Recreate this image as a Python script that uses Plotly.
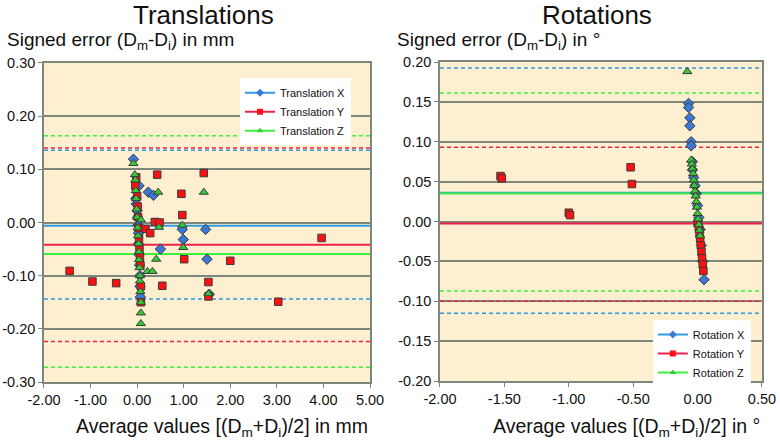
import plotly.graph_objects as go

# ---- Translations (mm) ----
tx_x = [-0.08, 0.04, -0.03, -0.02, 0.0, 0.01, 0.02, 0.03, 0.03, 0.04, 0.05, 0.06, 0.06, 0.07,
        0.24, 0.35, 0.97, 1.47, 0.99, 0.50, 1.50, 1.55]
tx_y = [0.119, 0.069, 0.045, 0.035, 0.022, 0.010, -0.005, -0.020, -0.040, -0.060, -0.080, -0.100, -0.120, -0.140,
        0.057, 0.051, -0.013, -0.013, -0.032, -0.050, -0.069, -0.135]

ty_x = [-1.45, -0.96, -0.45, -0.04, -0.02, 0.0, 0.01, 0.02, 0.03, 0.04, 0.05, 0.06, 0.07, 0.08, 0.08,
        0.43, 1.43, 0.95, 0.97, 0.38, 0.48, 0.18, 0.28, 1.01, 2.0, 0.54, 1.53, 1.53, 3.03, 3.96]
ty_y = [-0.091, -0.111, -0.114, 0.069, 0.085, 0.050, 0.030, 0.010, -0.010, -0.030, -0.050, -0.065, -0.080, -0.120, -0.150,
        0.090, 0.093, 0.054, 0.014, 0.001, 0.0, -0.012, -0.020, -0.069, -0.072, -0.119, -0.112, -0.139, -0.149, -0.029]

tz_x = [-0.08, -0.05, -0.04, -0.03, -0.02, -0.01, 0.0, 0.01, 0.02, 0.03, 0.04, 0.04, 0.05, 0.06, 0.06, 0.07, 0.08, 0.08, 0.08,
        0.45, 1.43, 0.08, 0.47, 0.97, 0.99, 0.41, 0.22, 0.33, 1.53]
tz_y = [0.111, 0.09, 0.08, 0.06, 0.045, 0.025, 0.01, -0.01, -0.025, -0.04, -0.055, -0.07, -0.085, -0.10, -0.11, -0.13, -0.15, -0.17, -0.19,
        0.057, 0.057, 0.005, -0.009, -0.005, -0.047, -0.069, -0.092, -0.092, -0.134]

t_mean = [-0.006, -0.042, -0.059]
t_upper = [0.136, 0.140, 0.163]
t_lower = [-0.144, -0.224, -0.272]

t_xticks = [-2, -1, 0, 1, 2, 3, 4, 5]
t_xlabels = ['-2.00', '-1.00', '0.00', '1.00', '2.00', '3.00', '4.00', '5.00']
t_yticks = [-0.3, -0.2, -0.1, 0.0, 0.1, 0.2, 0.3]
t_ylabels = ['-0.30', '-0.20', '-0.10', '0.00', '0.10', '0.20', '0.30']

# ---- Rotations (deg) ----
rx_x = [-0.07, -0.07, -0.06, -0.06, -0.05, -0.05, -0.04, -0.04, -0.03, -0.02, -0.01, 0.0, 0.01, 0.02, 0.03, 0.04, 0.05]
rx_y = [0.148, 0.143, 0.13, 0.12, 0.10, 0.095, 0.075, 0.065, 0.055, 0.045, 0.035, 0.02, 0.005, -0.01, -0.03, -0.05, -0.073]

ry_x = [-1.53, -1.52, -1.0, -0.99, -0.52, -0.51, 0.0, 0.01, 0.015, 0.02, 0.025, 0.03, 0.035, 0.04, 0.045]
ry_y = [0.057, 0.054, 0.011, 0.008, 0.068, 0.047, -0.002, -0.008, -0.015, -0.022, -0.03, -0.038, -0.046, -0.054, -0.062]

rz_x = [-0.08, -0.05, -0.045, -0.04, -0.035, -0.03, -0.025, -0.02, -0.015, -0.01, -0.005, 0.0, 0.005, 0.01, 0.015, 0.02]
rz_y = [0.188, 0.077, 0.072, 0.066, 0.06, 0.052, 0.045, 0.038, 0.032, 0.025, 0.018, 0.01, 0.003, -0.004, -0.011, -0.018]

r_mean = [0.036, -0.0025, 0.035]
r_upper = [0.1925, 0.093, 0.161]
r_lower = [-0.115, -0.100, -0.087]

r_xticks = [-2.0, -1.5, -1.0, -0.5, 0.0, 0.5]
r_xlabels = ['-2.00', '-1.50', '-1.00', '-0.50', '0.00', '0.50']
r_yticks = [-0.2, -0.15, -0.1, -0.05, 0.0, 0.05, 0.1, 0.15, 0.2]
r_ylabels = ['-0.20', '-0.15', '-0.10', '-0.05', '0.00', '0.05', '0.10', '0.15', '0.20']

line_cols = ['#2F9BE4', '#F0204A', '#3CF03C']
mark_cols = ['#3C78D8', '#FF1010', '#33CC33']
symbols = ['diamond', 'square', 'triangle-up']
mark_sizes = [8, 7.5, 8]
FONT = 'Liberation Sans, Arial, sans-serif'
GRID = '#7D877B'

fig = go.Figure()

# mean and limits of agreement as horizontal lines across each panel
for xa, ya, xr, means, ups, lows in [('x', 'y', [-2, 5], t_mean, t_upper, t_lower),
                                     ('x2', 'y2', [-2, 0.5], r_mean, r_upper, r_lower)]:
    for k in range(3):
        for val, dash, w in [(ups[k], '4px,3px', 1.5), (lows[k], '4px,3px', 1.5), (means[k], 'solid', 2)]:
            fig.add_trace(go.Scatter(x=xr, y=[val, val], mode='lines', xaxis=xa, yaxis=ya,
                                     showlegend=False, hoverinfo='skip',
                                     line=dict(color=line_cols[k], width=w, dash=dash)))

def add_series(xs, ys, k, xa, ya):
    fig.add_trace(go.Scatter(
        x=xs, y=ys, mode='markers', xaxis=xa, yaxis=ya, showlegend=False,
        marker=dict(symbol=symbols[k], color=mark_cols[k], size=mark_sizes[k],
                    line=dict(color='#3A3A3A', width=1))))

def add_legend(name, k, legend):
    fig.add_trace(go.Scatter(
        x=[None], y=[None], mode='lines+markers', name=name, legend=legend,
        line=dict(color=line_cols[k], width=2),
        marker=dict(symbol=symbols[k], color=mark_cols[k], size=6)))

add_series(tx_x, tx_y, 0, 'x', 'y')
add_series(ty_x, ty_y, 1, 'x', 'y')
add_series(tz_x, tz_y, 2, 'x', 'y')
add_series(rx_x, rx_y, 0, 'x2', 'y2')
add_series(ry_x, ry_y, 1, 'x2', 'y2')
add_series(rz_x, rz_y, 2, 'x2', 'y2')

for k, nm in enumerate(['Translation X', 'Translation Y', 'Translation Z']):
    add_legend(nm, k, 'legend')
for k, nm in enumerate(['Rotation X', 'Rotation Y', 'Rotation Z']):
    add_legend(nm, k, 'legend2')

axis_common = dict(showline=True, linecolor=GRID, linewidth=1.5, mirror=True, automargin=False,
                   ticks='outside', ticklen=4, tickcolor=GRID,
                   tickfont=dict(size=14.5, color='#111111'), zeroline=False)

fig.update_layout(
    width=780, height=442,
    margin=dict(l=0, r=0, t=0, b=0),
    paper_bgcolor='white', plot_bgcolor='#FDEFCF',
    font=dict(family=FONT, color='#111111'),
    xaxis=dict(domain=[0.0564, 0.4744], range=[-2, 5], tickvals=t_xticks, ticktext=t_xlabels,
               showgrid=False, anchor='y', **axis_common),
    yaxis=dict(domain=[0.1357, 0.8575], range=[-0.3, 0.3], tickvals=t_yticks, ticktext=t_ylabels,
               showgrid=True, gridcolor=GRID, gridwidth=1.5, anchor='x', **axis_common),
    xaxis2=dict(domain=[0.5641, 0.9769], range=[-2, 0.5], tickvals=r_xticks, ticktext=r_xlabels,
                showgrid=False, anchor='y2', **axis_common),
    yaxis2=dict(domain=[0.138, 0.8597], range=[-0.2, 0.2], tickvals=r_yticks, ticktext=r_ylabels,
                showgrid=True, gridcolor=GRID, gridwidth=1.5, anchor='x2', **axis_common),
    legend=dict(x=0.3077, y=0.823, xanchor='left', yanchor='top', bgcolor='white',
                font=dict(size=11), tracegroupgap=0, itemwidth=30),
    legend2=dict(x=0.837, y=0.276, xanchor='left', yanchor='top', bgcolor='white',
                 font=dict(size=11), tracegroupgap=0, itemwidth=30),
)

ann = [
    dict(text='Translations', x=203, y=15, size=26),
    dict(text='Rotations', x=597, y=15, size=26),
    dict(text='Average values [(D<sub>m</sub>+D<sub>i</sub>)/2] in mm', x=222, y=427, size=19.5),
    dict(text='Average values [(D<sub>m</sub>+D<sub>i</sub>)/2] in °', x=626, y=427, size=19.5),
]
for a in ann:
    fig.add_annotation(text=a['text'], xref='paper', yref='paper', x=a['x'] / 780, y=1 - a['y'] / 442,
                       xanchor='center', yanchor='middle', showarrow=False, font=dict(size=a['size'], family=FONT))
for txt, x0 in [('Signed error (D<sub>m</sub>-D<sub>i</sub>) in mm', 5),
                ('Signed error (D<sub>m</sub>-D<sub>i</sub>) in °', 395)]:
    fig.add_annotation(text=txt, xref='paper', yref='paper', x=x0 / 780, y=1 - 41 / 442,
                       xanchor='left', yanchor='middle', showarrow=False, font=dict(size=19, family=FONT))

# page body has a default 8px margin; drop it so the figure sits at the window's corner
fig.write_html("out.html", config={'displayModeBar': False},
               post_script="document.body.style.margin='0';")
